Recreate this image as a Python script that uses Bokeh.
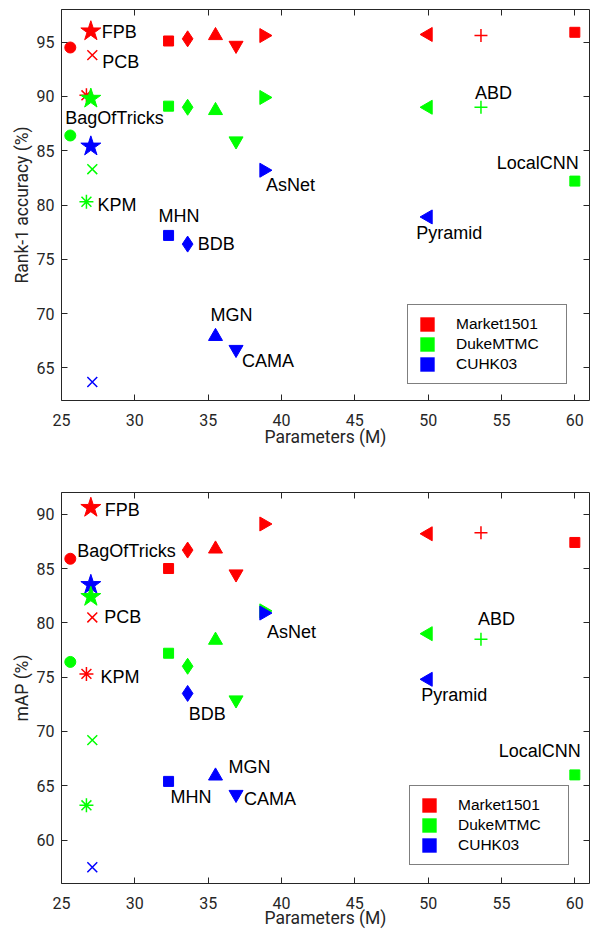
import math
from bokeh.plotting import figure
from bokeh.models import (Legend, LegendItem, LinearAxis, Range1d, FixedTicker,
                          ColumnDataSource)
from bokeh.layouts import column
from bokeh.embed import file_html
from bokeh.resources import INLINE
from bokeh.core.properties import value

# ---------------- data ----------------
methods = ["FPB", "BagOfTricks", "PCB", "KPM", "MHN", "BDB", "MGN", "CAMA",
           "AsNet", "Pyramid", "ABD", "LocalCNN"]
params = [27.0, 25.6, 27.1, 26.7, 32.3, 33.6, 35.5, 36.9, 38.8, 50.0, 53.6, 60.0]

market_rank1 = [96.0, 94.5, 93.8, 90.1, 95.1, 95.3, 95.6, 94.7, 95.6, 95.7, 95.6, 95.9]
duke_rank1 = [89.8, 86.4, 83.3, 80.3, 89.1, 89.0, 88.7, 85.9, 89.9, 89.0, 89.0, 82.2]
cuhk_rank1 = [85.4, None, 63.7, None, 77.2, 76.4, 67.9, 66.7, 83.2, 78.9, None, None]

market_map = [90.6, 85.9, 80.5, 75.3, 85.0, 86.7, 86.8, 84.5, 89.1, 88.2, 88.3, 87.4]
duke_map = [82.4, 76.4, 69.2, 63.2, 77.2, 76.0, 78.4, 72.9, 81.1, 79.0, 78.5, 66.0]
cuhk_map = [83.5, None, 57.5, None, 65.4, 73.5, 65.9, 64.2, 80.9, 74.8, None, None]

datasets = ["Market1501", "DukeMTMC", "CUHK03"]
x_ticks = [25, 30, 35, 40, 45, 50, 55, 60]
rank1_ticks = [65, 70, 75, 80, 85, 90, 95]
map_ticks = [60, 65, 70, 75, 80, 85, 90]

# ---------------- styles ----------------
COLORS = {"Market1501": "#ff0000", "DukeMTMC": "#00ff00", "CUHK03": "#0000ff"}
INK = "#262626"
AXIS_FONT = "Roboto"
# marker, angle, size, filled
MARKERS = {
    "FPB": ("star", 0.0, 21, True),
    "BagOfTricks": ("circle", 0.0, 11, True),
    "PCB": ("x", 0.0, 14, False),
    "KPM": ("asterisk", 0.0, 14, False),
    "MHN": ("square", 0.0, 10, True),
    "BDB": ("diamond", 0.0, 16, True),
    "MGN": ("triangle", 0.0, 14, True),
    "CAMA": ("inverted_triangle", 0.0, 14, True),
    "AsNet": ("triangle", -math.pi / 2, 14, True),
    "Pyramid": ("triangle", math.pi / 2, 14, True),
    "ABD": ("cross", 0.0, 13, False),
    "LocalCNN": ("square", 0.0, 10, True),
}

# label: (method, anchor dataset, dx px, dy px)
top_labels = [
    ("FPB", "Market1501", 11, 1), ("PCB", "Market1501", 10, 7),
    ("BagOfTricks", "DukeMTMC", -5, -17), ("KPM", "DukeMTMC", 11, 3),
    ("MHN", "CUHK03", -10, -19), ("BDB", "CUHK03", 10, 0),
    ("MGN", "CUHK03", -5, -21), ("CAMA", "CUHK03", 6, 12),
    ("AsNet", "CUHK03", 2, 15), ("ABD", "DukeMTMC", -6, -14),
    ("LocalCNN", "DukeMTMC", -78, -18), ("Pyramid", "CUHK03", -12, 16),
]
bottom_labels = [
    ("FPB", "Market1501", 14, 2), ("BagOfTricks", "Market1501", 7, -8),
    ("PCB", "Market1501", 12, 0), ("KPM", "Market1501", 14, 3),
    ("BDB", "CUHK03", 1, 21), ("MGN", "CUHK03", 13, -9),
    ("MHN", "CUHK03", 2, 16), ("CAMA", "CUHK03", 8, 5),
    ("AsNet", "CUHK03", 3, 19), ("ABD", "DukeMTMC", -3, -20),
    ("Pyramid", "CUHK03", -7, 16), ("LocalCNN", "DukeMTMC", -76, -24),
]


def style_ticks(ax):
    ax.major_tick_in = 6
    ax.major_tick_out = 0
    ax.minor_tick_in = 0
    ax.minor_tick_out = 0
    ax.axis_line_color = INK
    ax.axis_line_width = 1
    ax.major_tick_line_color = INK


def mirror_axis(ticks):
    ax = LinearAxis(ticker=FixedTicker(ticks=ticks))
    style_ticks(ax)
    ax.major_label_overrides = {t: "" for t in ticks}
    ax.major_label_standoff = 0
    return ax


def build(ylabel, yr, yticks, series, labels, legend_loc, height, btop, bbottom,
          xlabel_standoff):
    p = figure(width=592, height=height, x_range=Range1d(25, 61),
               y_range=Range1d(*yr), output_backend="svg", toolbar_location=None,
               min_border_left=61, min_border_right=3, min_border_top=btop,
               min_border_bottom=bbottom, outline_line_color=None,
               background_fill_color="white", border_fill_color="white")
    p.grid.visible = False
    for ax, ticks in ((p.xaxis[0], x_ticks), (p.yaxis[0], yticks)):
        ax.ticker = FixedTicker(ticks=ticks)
        style_ticks(ax)
        ax.major_label_text_color = INK
        ax.major_label_text_font = AXIS_FONT
        ax.major_label_text_font_size = "16px"
        ax.axis_label_text_font = AXIS_FONT
        ax.axis_label_text_font_size = "17.5px"
        ax.axis_label_text_font_style = "normal"
        ax.axis_label_text_color = INK
    p.xaxis[0].axis_label = "Parameters (M)"
    p.xaxis[0].major_label_standoff = 13
    p.xaxis[0].axis_label_standoff = xlabel_standoff
    p.yaxis[0].axis_label = ylabel
    p.yaxis[0].major_label_standoff = 7
    p.yaxis[0].axis_label_standoff = 2
    p.add_layout(mirror_axis(x_ticks), "above")
    p.add_layout(mirror_axis(yticks), "right")

    order = [i for i, m in enumerate(methods) if m != "FPB"] + [methods.index("FPB")]
    for i in order:
        m = methods[i]
        mk, ang, size, filled = MARKERS[m]
        ds_order = ["Market1501", "CUHK03", "DukeMTMC"] if m == "FPB" else datasets
        for ds in ds_order:
            yv = series[ds][i]
            if yv is None:
                continue
            c = COLORS[ds]
            p.scatter([params[i]], [yv], marker=mk, angle=ang, size=size,
                      line_color=c, fill_color=c if filled else None,
                      line_width=1 if filled else 1.5)

    src = ColumnDataSource(dict(
        x=[params[methods.index(m)] for m, ds, dx, dy in labels],
        y=[series[ds][methods.index(m)] for m, ds, dx, dy in labels],
        text=[m for m, ds, dx, dy in labels],
        dx=[dx for m, ds, dx, dy in labels],
        dy=[dy for m, ds, dx, dy in labels],
    ))
    p.text(x="x", y="y", text="text", x_offset="dx", y_offset="dy", source=src,
           text_font=value("Liberation Sans"), text_font_size="18px",
           text_align="left", text_baseline="middle", text_color="black")

    nan = float("nan")
    items = []
    for ds in datasets:
        # legend-only swatch: a single undrawable (NaN) quad
        r = p.quad(left=[nan], right=[nan], top=[nan], bottom=[nan],
                   fill_color=COLORS[ds], line_color=None)
        items.append(LegendItem(label=ds, renderers=[r]))
    leg = Legend(items=items, location=legend_loc, padding=10, spacing=2,
                 glyph_width=18, glyph_height=18, label_standoff=20,
                 label_width=100, label_height=18, margin=0,
                 label_text_font="Liberation Sans", label_text_font_size="15.5px",
                 label_text_color="black", border_line_color="black",
                 border_line_width=1, background_fill_color="white",
                 background_fill_alpha=1.0)
    p.add_layout(leg)
    return p


p1 = build("Rank-1 accuracy (%)", (62, 98), rank1_ticks,
           {"Market1501": market_rank1, "DukeMTMC": duke_rank1, "CUHK03": cuhk_rank1},
           top_labels, (346, 16), 460, 9, 60, -2)
p2 = build("mAP (%)", (56, 92), map_ticks,
           {"Market1501": market_map, "DukeMTMC": duke_map, "CUHK03": cuhk_map},
           bottom_labels, (348, 18), 471, 32, 48, -4)

layout = column(p1, p2, spacing=0)
open("out.html", "w").write(file_html(layout, INLINE))
